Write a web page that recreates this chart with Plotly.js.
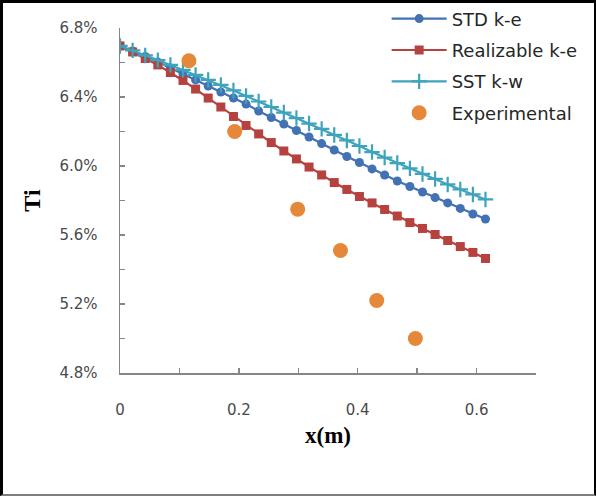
<!DOCTYPE html>
<html>
<head>
<meta charset="utf-8">
<script src="https://cdn.plot.ly/plotly-3.0.1.min.js"></script>
<style>
  html, body { margin: 0; padding: 0; background: #fff; }
  #wrap { position: relative; width: 596px; height: 496px; }
  #chart { position: absolute; left: 0; top: 0; width: 596px; height: 496px; }
  #frame {
    position: absolute; left: 0; top: 0; width: 596px; height: 496px;
    box-sizing: border-box; pointer-events: none;
    border-top: 3px solid #000; border-left: 3px solid #000;
    border-right: 2px solid #000; border-bottom: 2px solid #7f7f7f;
  }
</style>
</head>
<body>
<div id="wrap">
  <div id="chart"></div>
  <div id="frame"></div>
</div>
<script>
// Axial position along the section (m)
const xModel = [0.000, 0.0212, 0.0424, 0.0636, 0.0848, 0.1060, 0.1272, 0.1484, 0.1697, 0.1909,
                0.2121, 0.2333, 0.2545, 0.2757, 0.2969, 0.3181, 0.3393, 0.3605, 0.3817, 0.4029,
                0.4241, 0.4453, 0.4666, 0.4878, 0.5090, 0.5302, 0.5514, 0.5726, 0.5938, 0.6150];

// Turbulence intensity Ti (%) for each model
const tiStdKe = [6.696, 6.667, 6.635, 6.603, 6.568, 6.533, 6.499, 6.464, 6.429, 6.394,
                 6.359, 6.319, 6.281, 6.243, 6.206, 6.168, 6.130, 6.093, 6.055, 6.020,
                 5.983, 5.948, 5.913, 5.881, 5.849, 5.817, 5.786, 5.754, 5.722, 5.693];
const tiRealKe = [6.696, 6.661, 6.623, 6.586, 6.542, 6.496, 6.446, 6.394, 6.342, 6.287,
                  6.235, 6.186, 6.136, 6.087, 6.041, 5.994, 5.948, 5.904, 5.864, 5.823,
                  5.786, 5.748, 5.710, 5.672, 5.638, 5.603, 5.568, 5.533, 5.499, 5.464];
const tiSstKw = [6.696, 6.670, 6.641, 6.614, 6.586, 6.557, 6.528, 6.499, 6.470, 6.438,
                 6.406, 6.374, 6.342, 6.310, 6.278, 6.246, 6.215, 6.180, 6.148, 6.116,
                 6.081, 6.049, 6.017, 5.986, 5.954, 5.925, 5.893, 5.864, 5.835, 5.806];

// Measured values
const xExp = [0.116, 0.193, 0.299, 0.371, 0.432, 0.497];
const tiExp = [6.61, 6.20, 5.75, 5.51, 5.22, 5.00];

const seriesNames = ['STD k-e', 'Realizable k-e', 'SST k-w', 'Experimental'];

const traces = [
  {
    x: xModel, y: tiStdKe, name: seriesNames[0], legendgroup: 'g1', type: 'scatter', mode: 'lines+markers',
    line: { color: '#4372b4', width: 2.2 },
    marker: { symbol: 'circle', size: 9, color: '#4372b4' }
  },
  {
    x: xModel, y: tiRealKe, name: seriesNames[1], legendgroup: 'g2', type: 'scatter', mode: 'lines+markers',
    line: { color: '#b5423f', width: 2.2 },
    marker: { symbol: 'square', size: 9, color: '#b5423f' }
  },
  {
    x: xModel, y: tiSstKw, name: seriesNames[2], legendgroup: 'g3', type: 'scatter', mode: 'lines+markers',
    line: { color: '#3ea3bd', width: 2.2 },
    marker: { symbol: 'cross-thin', size: 11, color: '#3ea3bd', line: { color: '#3ea3bd', width: 2.2 } }
  },
  {
    x: xExp, y: tiExp, name: seriesNames[3], legendgroup: 'g4', type: 'scatter', mode: 'markers',
    marker: { symbol: 'circle', size: 15, color: '#e5883a' }
  }
];

const tickFont = { family: 'DejaVu Sans', size: 15, color: '#4a4a4a' };

const layout = {
  width: 596, height: 496,
  margin: { l: 120, r: 59.5, t: 28, b: 123, autoexpand: false },
  paper_bgcolor: '#ffffff', plot_bgcolor: '#ffffff',
  showlegend: true,
  legend: {
    x: 0.641, y: 1.08, xanchor: 'left', yanchor: 'top',
    font: { family: 'DejaVu Sans', size: 18, color: '#262626' },
    itemwidth: 55, tracegroupgap: 5,
    bgcolor: 'rgba(255,255,255,0)'
  },
  xaxis: {
    range: [0, 0.7],
    tickvals: [0, 0.2, 0.4, 0.6], ticktext: ['0', '0.2', '0.4', '0.6'],
    ticks: 'inside', ticklen: 5, tickcolor: '#868686', tickwidth: 1.3,
    minor: { dtick: 0.1, tick0: 0, ticks: 'inside', ticklen: 5, tickcolor: '#868686', tickwidth: 1.3 },
    showline: true, linecolor: '#868686', linewidth: 1.5,
    showgrid: false, zeroline: false,
    tickfont: tickFont, ticklabelstandoff: 22,
    title: { text: 'x(m)', font: { family: 'Liberation Serif', size: 23, color: '#000', weight: 'bold' }, standoff: 9 }
  },
  yaxis: {
    range: [4.8, 6.8], dtick: 0.4, tick0: 4.8,
    ticks: 'inside', ticklen: 5, tickcolor: '#868686', tickwidth: 1.3,
    minor: { dtick: 0.2, tick0: 4.8, ticks: 'inside', ticklen: 5, tickcolor: '#868686', tickwidth: 1.3 },
    tickformat: '.1f', ticksuffix: '%',
    showline: true, linecolor: '#868686', linewidth: 1.5,
    showgrid: false, zeroline: false,
    tickfont: tickFont, ticklabelstandoff: 18,
    title: { text: 'Ti', font: { family: 'Liberation Serif', size: 24, color: '#000', weight: 'bold' }, standoff: 12 }
  }
};

Plotly.newPlot('chart', traces, layout, { displayModeBar: false, staticPlot: true });
</script>
</body>
</html>
